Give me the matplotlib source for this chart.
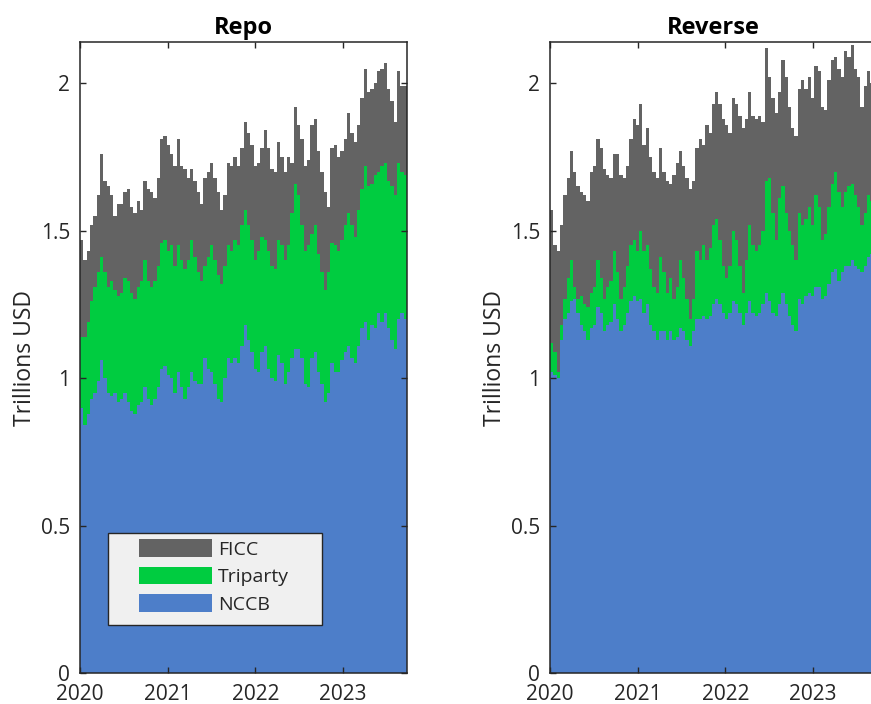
import numpy as np
import pandas as pd
import matplotlib
matplotlib.use('Agg')
import matplotlib.pyplot as plt
from matplotlib.patches import Patch, Rectangle

plt.rcParams['font.family'] = ['Open Sans', 'DejaVu Sans']

# ---------------- data (trillions USD, stacked levels) ----------------
series_names = ['FICC', 'Triparty', 'NCCB']
start_date = '2020-01-01'
end_date = '2023-09-25'
year_labels = ['2020', '2021', '2022', '2023']
y_ticks = [0, 0.5, 1, 1.5, 2]
y_ticklabels = ['0', '0.5', '1', '1.5', '2']

# Repo panel
repo_nccb = [0.90, 0.84, 0.88, 0.93, 0.95, 0.99, 1.06, 1.00, 0.95, 0.94, 0.95, 0.92, 0.93, 0.95, 0.92, 0.89, 0.88,
             0.91, 0.92, 0.97, 0.93, 0.91, 0.93, 0.97, 1.03, 1.04, 1.01, 1.00, 0.95, 1.02, 0.97, 0.93, 0.97,
             1.02, 0.99, 0.98, 0.98, 1.07, 1.03, 1.02, 0.98, 0.93, 0.92, 1.00, 1.07, 1.05, 1.07, 1.05, 1.11,
             1.18, 1.13, 1.09, 1.03, 1.02, 1.09, 1.11, 1.03, 1.00, 0.99, 1.08, 1.05, 0.98, 1.02, 1.07, 1.10, 1.10,
             1.07, 0.98, 0.97, 1.07, 1.09, 1.02, 0.98, 0.92, 0.95, 1.05, 1.02, 1.02, 1.06, 1.09, 1.11, 1.07,
             1.05, 1.11, 1.17, 1.19, 1.13, 1.18, 1.17, 1.22, 1.19, 1.22, 1.17, 1.13, 1.10, 1.20, 1.22, 1.20]
repo_nccb_triparty = [1.14, 1.14, 1.19, 1.26, 1.31, 1.36, 1.41, 1.36, 1.31, 1.33, 1.30, 1.28, 1.29, 1.34, 1.33, 1.29,
                      1.27, 1.31, 1.33, 1.40, 1.33, 1.31, 1.33, 1.38, 1.46, 1.47, 1.43, 1.45, 1.38, 1.45, 1.40, 1.37,
                      1.40,
                      1.47, 1.41, 1.36, 1.33, 1.38, 1.41, 1.45, 1.40, 1.35, 1.32, 1.38, 1.45, 1.43, 1.47, 1.45, 1.52,
                      1.57, 1.52, 1.47, 1.40, 1.43, 1.48, 1.47, 1.43, 1.38, 1.37, 1.47, 1.45, 1.40, 1.45, 1.56, 1.66,
                      1.62,
                      1.52, 1.43, 1.45, 1.49, 1.52, 1.42, 1.36, 1.30, 1.36, 1.46, 1.45, 1.43, 1.47, 1.52, 1.56, 1.52,
                      1.48, 1.57, 1.64, 1.72, 1.65, 1.66, 1.69, 1.70, 1.72, 1.73, 1.67, 1.65, 1.62, 1.73, 1.70, 1.69]
repo_total = [1.47, 1.40, 1.43, 1.52, 1.55, 1.62, 1.76, 1.67, 1.65, 1.62, 1.55, 1.59, 1.59, 1.63, 1.64, 1.58, 1.56,
              1.60, 1.57, 1.67, 1.64, 1.63, 1.61, 1.68, 1.81, 1.82, 1.79, 1.76, 1.72, 1.81, 1.72, 1.71, 1.68,
              1.71, 1.67, 1.63, 1.59, 1.68, 1.70, 1.73, 1.68, 1.63, 1.57, 1.62, 1.73, 1.72, 1.75, 1.72, 1.78,
              1.87, 1.83, 1.79, 1.72, 1.73, 1.78, 1.84, 1.78, 1.71, 1.70, 1.80, 1.75, 1.70, 1.75, 1.73, 1.92, 1.86,
              1.81, 1.72, 1.74, 1.86, 1.88, 1.77, 1.70, 1.63, 1.58, 1.78, 1.79, 1.75, 1.77, 1.81, 1.90, 1.83,
              1.80, 1.86, 1.95, 2.05, 1.97, 1.98, 2.00, 2.04, 2.05, 2.07, 1.98, 1.94, 1.87, 2.04, 1.99, 1.99]

# Reverse panel
rev_nccb = [1.02, 1.01, 1.00, 1.13, 1.20, 1.22, 1.26, 1.27, 1.22, 1.18, 1.16, 1.13, 1.17, 1.18, 1.24, 1.22, 1.16,
            1.18, 1.19, 1.25, 1.20, 1.16, 1.18, 1.22, 1.26, 1.28, 1.26, 1.27, 1.22, 1.25, 1.18, 1.16, 1.13,
            1.16, 1.16, 1.13, 1.16, 1.13, 1.14, 1.17, 1.16, 1.13, 1.11, 1.16, 1.20, 1.20, 1.21, 1.20, 1.21,
            1.25, 1.27, 1.25, 1.22, 1.20, 1.22, 1.26, 1.25, 1.22, 1.18, 1.22, 1.26, 1.22, 1.21, 1.22, 1.25, 1.29,
            1.26, 1.22, 1.21, 1.25, 1.29, 1.25, 1.21, 1.18, 1.16, 1.27, 1.25, 1.28, 1.29, 1.28, 1.31, 1.31,
            1.27, 1.28, 1.32, 1.36, 1.37, 1.33, 1.36, 1.38, 1.38, 1.40, 1.38, 1.37, 1.36, 1.38, 1.41, 1.42, 1.43]
rev_nccb_triparty = [1.12, 1.09, 1.02, 1.18, 1.27, 1.34, 1.40, 1.31, 1.27, 1.28, 1.25, 1.24, 1.29, 1.31, 1.40, 1.34,
                     1.27, 1.31, 1.33, 1.43, 1.36, 1.27, 1.31, 1.38, 1.45, 1.47, 1.43, 1.50, 1.43, 1.45, 1.37, 1.31,
                     1.29,
                     1.41, 1.36, 1.29, 1.34, 1.27, 1.31, 1.40, 1.34, 1.27, 1.20, 1.27, 1.43, 1.40, 1.45, 1.40, 1.44,
                     1.52, 1.54, 1.47, 1.38, 1.34, 1.38, 1.50, 1.47, 1.38, 1.29, 1.40, 1.52, 1.45, 1.43, 1.45, 1.50,
                     1.67,
                     1.68, 1.56, 1.47, 1.61, 1.65, 1.56, 1.50, 1.45, 1.40, 1.56, 1.52, 1.54, 1.58, 1.52, 1.62, 1.58,
                     1.47, 1.49, 1.58, 1.66, 1.70, 1.63, 1.58, 1.63, 1.65, 1.66, 1.62, 1.58, 1.52, 1.56, 1.62, 1.60,
                     1.58]
rev_total = [1.57, 1.45, 1.43, 1.52, 1.62, 1.68, 1.77, 1.70, 1.65, 1.63, 1.62, 1.60, 1.70, 1.72, 1.81, 1.78, 1.71,
             1.69, 1.68, 1.76, 1.76, 1.69, 1.68, 1.72, 1.81, 1.88, 1.86, 1.93, 1.79, 1.85, 1.75, 1.70, 1.68,
             1.78, 1.70, 1.67, 1.66, 1.69, 1.73, 1.77, 1.72, 1.68, 1.64, 1.67, 1.78, 1.81, 1.79, 1.86, 1.83,
             1.93, 1.97, 1.93, 1.88, 1.86, 1.83, 1.95, 1.93, 1.89, 1.85, 1.88, 1.97, 1.89, 1.88, 1.89, 1.87, 2.12,
             2.02, 1.95, 1.90, 1.97, 2.08, 2.02, 1.92, 1.85, 1.82, 1.98, 2.01, 1.98, 2.02, 1.95, 2.06, 2.04,
             1.92, 1.91, 2.01, 2.08, 2.09, 2.05, 2.02, 2.11, 2.09, 2.13, 2.05, 2.02, 1.92, 1.99, 2.04, 2.00, 1.97]

# ---------------- style ----------------
colors = {'FICC': '#636363', 'Triparty': '#00cc40', 'NCCB': '#4d7ec9'}
ink = '#262626'
FS_TICK = 15
FS_LABEL = 16.5
FS_LEG = 14

fig = plt.figure(figsize=(8.71, 7.04), dpi=100)
W, H = 871, 704
ax1 = fig.add_axes([80 / W, 1 - 673 / H, 327 / W, 631 / H])
ax2 = fig.add_axes([550 / W, 1 - 673 / H, 327 / W, 631 / H])


def draw(ax, nccb, mid, total, title):
    n = len(nccb)
    edges = pd.date_range(start_date, end_date, periods=n + 1)
    ext = lambda a: np.append(np.asarray(a), a[-1])
    ax.fill_between(edges, 0, ext(total), step='post', color=colors['FICC'], lw=0)
    ax.fill_between(edges, 0, ext(mid), step='post', color=colors['Triparty'], lw=0)
    ax.fill_between(edges, 0, ext(nccb), step='post', color=colors['NCCB'], lw=0)
    ax.set_xlim(pd.Timestamp(start_date), pd.Timestamp(end_date))
    ax.set_ylim(0, 2.14)
    ax.set_xticks([pd.Timestamp(y + '-01-01') for y in year_labels])
    ax.set_xticklabels(year_labels)
    ax.set_yticks(y_ticks)
    ax.set_yticklabels(y_ticklabels)
    ax.tick_params(direction='in', length=4, width=1, top=True, right=True,
                   labelsize=FS_TICK, colors=ink)
    ax.tick_params(axis='x', pad=8)
    ax.tick_params(axis='y', pad=7)
    for s in ax.spines.values():
        s.set_color(ink)
        s.set_linewidth(1.1)
    ax.set_title(title, fontsize=17, fontweight='bold', color='black', pad=6)
    ax.set_ylabel('Trillions USD', fontsize=FS_LABEL, color=ink, labelpad=3)


draw(ax1, repo_nccb, repo_nccb_triparty, repo_total, 'Repo')
draw(ax2, rev_nccb, rev_nccb_triparty, rev_total, 'Reverse')

# legend (MATLAB-style box)
ax1.add_patch(Rectangle((28 / 327, 48 / 631), 214 / 327, 92 / 631, transform=ax1.transAxes,
                        facecolor='#f0f0f0', edgecolor=ink, lw=1.0, zorder=5))
handles = [Patch(facecolor=colors[s], edgecolor='none') for s in series_names]
leg = ax1.legend(handles, series_names, loc='upper left', bbox_to_anchor=(59 / 327, 134 / 631),
                 frameon=False, fontsize=FS_LEG, handlelength=3.75, handleheight=1.03,
                 handletextpad=0.3, labelspacing=0.42, borderpad=0, borderaxespad=0)
leg.set_zorder(6)
for t in leg.get_texts():
    t.set_color(ink)

fig.savefig('out.png', dpi=100)
